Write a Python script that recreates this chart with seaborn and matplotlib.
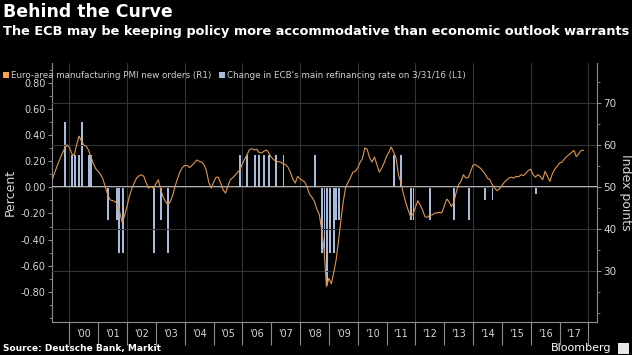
import numpy as np
import pandas as pd
import matplotlib
matplotlib.use("Agg")
import matplotlib.pyplot as plt
import matplotlib.dates as mdates
from matplotlib.ticker import MultipleLocator, FixedLocator, FixedFormatter, NullFormatter
from matplotlib.patches import Patch, Rectangle
import seaborn as sns

# ---------------- data ----------------
pmi_start = "1999-06-01"
pmi_1999 = [52.0, 53.6, 55.2, 56.6, 58.0, 59.2, 60.1]
pmi_2000 = [59.5, 58.0, 57.6, 60.0, 62.2, 61.1, 60.1, 59.8, 58.8, 57.2, 55.6, 54.4]
pmi_2001 = [53.8, 53.0, 52.0, 50.0, 48.2, 47.0, 46.8, 46.6, 46.0, 44.0, 41.5, 43.3]
pmi_2002 = [45.5, 48.0, 49.6, 51.0, 52.2, 52.7, 53.0, 52.6, 51.0, 49.8, 50.2, 49.8]
pmi_2003 = [50.8, 51.8, 49.6, 47.8, 46.6, 45.8, 46.5, 48.0, 50.2, 52.0, 53.6, 54.7]
pmi_2004 = [55.2, 55.2, 54.7, 55.2, 55.8, 56.5, 56.2, 56.0, 55.4, 54.0, 51.2, 49.8]
pmi_2005 = [51.2, 52.4, 52.4, 51.0, 49.4, 48.6, 50.3, 51.8, 52.3, 52.9, 53.6, 54.2]
pmi_2006 = [55.6, 56.8, 57.8, 59.0, 59.2, 58.9, 59.1, 58.3, 58.2, 58.6, 58.9, 58.2]
pmi_2007 = [57.2, 56.6, 56.2, 56.1, 56.0, 55.6, 55.4, 54.8, 53.6, 52.0, 51.0, 52.6]
pmi_2008 = [52.0, 51.6, 51.2, 50.0, 48.3, 47.6, 46.6, 44.8, 43.5, 39.9, 35.0, 26.3]
pmi_2009 = [28.3, 27.0, 29.5, 32.5, 37.0, 42.0, 46.5, 50.0, 51.2, 52.3, 53.6, 53.8]
pmi_2010 = [54.6, 56.0, 56.8, 59.4, 59.0, 57.0, 56.0, 57.2, 55.4, 53.6, 54.6, 55.8]
pmi_2011 = [57.4, 58.4, 59.6, 58.4, 57.0, 53.0, 51.2, 48.6, 46.4, 44.6, 43.0, 43.6]
pmi_2012 = [45.2, 46.8, 45.8, 44.6, 43.0, 42.8, 43.4, 43.4, 43.8, 43.9, 44.0, 43.9]
pmi_2013 = [45.5, 47.2, 46.6, 45.4, 46.3, 48.8, 50.6, 51.4, 53.0, 52.2, 52.3, 53.8]
pmi_2014 = [55.3, 55.4, 55.0, 54.6, 54.0, 53.2, 52.2, 51.8, 50.6, 49.8, 49.2, 49.6]
pmi_2015 = [50.4, 51.2, 51.7, 52.2, 52.4, 52.2, 52.6, 52.5, 53.0, 52.8, 53.3, 54.0]
pmi_2016 = [54.3, 53.0, 52.4, 53.0, 52.6, 51.8, 53.8, 52.6, 51.4, 53.2, 54.3, 55.0]
pmi_2017 = [55.8, 56.0, 56.7, 57.3, 57.8, 58.3, 58.8, 57.3, 58.0, 58.8, 58.8]

rate_dates = ["1999-11-04", "2000-02-03", "2000-03-16", "2000-04-27", "2000-06-08",
              "2000-09-01", "2000-10-05", "2001-05-10", "2001-08-30", "2001-09-17",
              "2001-11-08", "2002-12-05", "2003-03-06", "2003-06-05", "2005-12-01",
              "2006-03-02", "2006-06-08", "2006-08-03", "2006-10-05", "2006-12-07",
              "2007-03-08", "2007-06-06", "2008-07-03", "2008-10-08", "2008-11-06",
              "2008-12-04", "2009-01-15", "2009-03-05", "2009-04-02", "2009-05-07",
              "2011-04-07", "2011-07-07", "2011-11-03", "2011-12-08", "2012-07-05",
              "2013-05-02", "2013-11-07", "2014-06-05", "2014-09-04", "2016-03-10"]
rate_changes = [0.50, 0.25, 0.25, 0.25, 0.50,
                0.25, 0.25, -0.25, -0.25, -0.50,
                -0.50, -0.50, -0.25, -0.50, 0.25,
                0.25, 0.25, 0.25, 0.25, 0.25,
                0.25, 0.25, 0.25, -0.50, -0.50,
                -0.75, -0.50, -0.50, -0.25, -0.25,
                0.25, 0.25, -0.25, -0.25, -0.25,
                -0.25, -0.25, -0.10, -0.10, -0.05]

year_labels = ["'00", "'01", "'02", "'03", "'04", "'05", "'06", "'07", "'08",
               "'09", "'10", "'11", "'12", "'13", "'14", "'15", "'16", "'17"]
label_years = list(range(2000, 2018))
left_ticks = [-0.8, -0.6, -0.4, -0.2, 0.0, 0.2, 0.4, 0.6, 0.8]
right_ticks = [30, 40, 50, 60, 70]

title = "Behind the Curve"
subtitle = "The ECB may be keeping policy more accommodative than economic outlook warrants"
legend_labels = ["Euro-area manufacturing PMI new orders (R1)",
                 "Change in ECB's main refinancing rate on 3/31/16 (L1)"]
source = "Source: Deutsche Bank, Markit"

# ---------------- frames ----------------
pmi_values = (pmi_1999 + pmi_2000 + pmi_2001 + pmi_2002 + pmi_2003 + pmi_2004 + pmi_2005
              + pmi_2006 + pmi_2007 + pmi_2008 + pmi_2009 + pmi_2010 + pmi_2011 + pmi_2012
              + pmi_2013 + pmi_2014 + pmi_2015 + pmi_2016 + pmi_2017)
pmi_df = pd.DataFrame({"date": pd.date_range(pmi_start, periods=len(pmi_values), freq="MS"),
                       "pmi": pmi_values})
rate_df = pd.DataFrame({"date": pd.to_datetime(rate_dates), "change": rate_changes})

# ---------------- style ----------------
sns.set_theme(style="dark")
plt.rcParams["font.family"] = ["DejaVu Sans"]

ORANGE = "#df964e"
ORANGE_SQ = "#f5a34a"
BAR = "#a9bbdc"
GRID = "#353535"
AXC = "#8c8c8c"
TXT = "#d6d6d6"

fig = plt.figure(figsize=(6.32, 3.55), dpi=100, facecolor="black")
ax = fig.add_axes([52 / 632, 1 - 322 / 355, (597 - 52) / 632, (322 - 63) / 355])
ax.set_facecolor("black")
ax2 = ax.twinx()
ax2.patch.set_visible(False)

# left axis: rate-change bars
ax.bar(rate_df["date"], rate_df["change"], width=24, color=BAR, linewidth=0, zorder=3)
ax.axhline(0, color="#dcdcdc", lw=1.2, zorder=4)
for yr in range(2000, 2019, 2):
    ax.axvline(pd.Timestamp(f"{yr}-01-01"), color=GRID, lw=0.8, zorder=1)

left_lim = (-1.03, 0.95)
scale = 31.2
ax.set_ylim(*left_lim)
ax2.set_ylim(50 + scale * left_lim[0], 50 + scale * left_lim[1])
ax.set_xlim(pd.Timestamp("1999-05-26"), pd.Timestamp("2018-04-20"))

# right axis: PMI line
sns.lineplot(data=pmi_df, x="date", y="pmi", ax=ax2, color=ORANGE, lw=0.8, zorder=5)
ax2.yaxis.grid(True, color=GRID, lw=0.8)
ax2.xaxis.grid(False)
ax.grid(False)
ax2.set_xlabel("")

# x axis ticks
ax.xaxis.set_major_locator(mdates.YearLocator(1))
ax.xaxis.set_major_formatter(NullFormatter())
ax.xaxis.set_minor_locator(FixedLocator([mdates.date2num(pd.Timestamp(f"{y}-07-01")) for y in label_years]))
ax.xaxis.set_minor_formatter(FixedFormatter(year_labels))
ax.tick_params(axis="x", which="major", length=16.5, width=0.8, color=AXC, direction="out", bottom=True)
ax.tick_params(axis="x", which="minor", length=0, pad=5, labelsize=7, labelcolor=TXT, bottom=True)

# left y axis
ax.yaxis.set_major_locator(FixedLocator(left_ticks))
ax.yaxis.set_minor_locator(MultipleLocator(0.1))
ax.set_yticklabels([f"{v:.2f}" for v in left_ticks])
ax.tick_params(axis="y", which="major", length=3, width=0.8, color=AXC, labelsize=7,
               labelcolor=TXT, pad=1.5, left=True, direction="out")
ax.tick_params(axis="y", which="minor", length=2, width=0.6, color=AXC, left=True, direction="out")
ax.set_ylabel("Percent", color=TXT, fontsize=9, labelpad=3)

# right y axis
ax2.yaxis.set_major_locator(FixedLocator(right_ticks))
ax2.yaxis.set_minor_locator(MultipleLocator(5))
ax2.tick_params(axis="y", which="major", length=3, width=0.8, color=AXC, labelsize=7.5,
                labelcolor=TXT, pad=1.5, right=True, direction="out")
ax2.tick_params(axis="y", which="minor", length=2, width=0.6, color=AXC, right=True, direction="out")
ax2.set_ylabel("Index points", color=TXT, fontsize=9, rotation=270, labelpad=11)

for a in (ax, ax2):
    a.spines["top"].set_visible(False)
ax.spines["right"].set_visible(False)
ax.spines["left"].set_color(AXC)
ax.spines["left"].set_linewidth(0.8)
ax.spines["bottom"].set_color(AXC)
ax.spines["bottom"].set_linewidth(0.8)
ax2.spines["left"].set_visible(False)
ax2.spines["bottom"].set_visible(False)
ax2.spines["right"].set_color(AXC)
ax2.spines["right"].set_linewidth(0.8)

# titles
fig.text(0.004, 1 - 3 / 355, title, color="white", fontsize=12.5, fontweight="bold", va="top", ha="left")
fig.text(0.004, 1 - 25 / 355, subtitle, color="white", fontsize=9.3, fontweight="bold", va="top", ha="left")

handles = [Patch(facecolor=ORANGE_SQ, edgecolor="none"), Patch(facecolor=BAR, edgecolor="none")]
fig.legend(handles, legend_labels, loc="upper left", bbox_to_anchor=(0.004, 1 - 71 / 355), ncol=2,
           frameon=False, fontsize=6.3, labelcolor="#cfcfcf", handlelength=0.7, handleheight=0.7,
           handletextpad=0.3, columnspacing=0.8, borderpad=0, borderaxespad=0)

fig.text(0.004, 1 - 349 / 355, source, color="white", fontsize=6.5, fontweight="bold", va="center", ha="left")
fig.text(611 / 632, 1 - 348 / 355, "Bloomberg", color="white", fontsize=8, va="center", ha="right")
fig.patches.append(Rectangle((618 / 632, 1 - 354 / 355), 11 / 632, 11 / 355, transform=fig.transFigure,
                             facecolor="#e8e8e8", edgecolor="none"))

fig.savefig("out.png", dpi=100, facecolor="black")
